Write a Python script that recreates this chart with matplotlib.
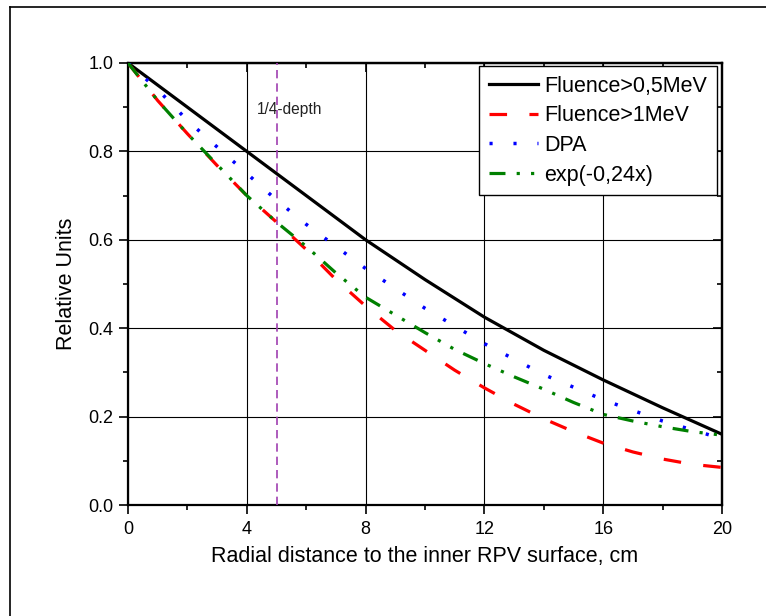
import matplotlib
matplotlib.use("Agg")
import matplotlib.pyplot as plt
from matplotlib.lines import Line2D
from matplotlib.ticker import MultipleLocator, FormatStrFormatter

plt.rcParams['font.family'] = ['Liberation Sans', 'DejaVu Sans']

# Data
x_black = [0, 2, 4, 6, 8, 10, 12, 14, 16, 18, 20]
y_black = [1.0, 0.90, 0.80, 0.70, 0.60, 0.51, 0.425, 0.35, 0.283, 0.22, 0.16]

x_red = [0, 1, 2, 3, 4, 5, 6, 7, 8, 9, 10, 11, 12, 13, 14, 15, 16, 17, 18, 19, 20]
y_red = [1.0, 0.915, 0.84, 0.768, 0.70, 0.64, 0.578, 0.51, 0.45, 0.395, 0.35, 0.305,
         0.265, 0.228, 0.195, 0.166, 0.14, 0.12, 0.104, 0.092, 0.085]

x_blue = [0, 1, 2, 3, 4, 5, 6, 8, 10, 12, 14, 16, 18, 20]
y_blue = [1.0, 0.94, 0.87, 0.81, 0.75, 0.69, 0.635, 0.535, 0.445, 0.365, 0.295, 0.238, 0.19, 0.15]

x_green = [0, 1, 2, 3, 4, 5, 6, 7, 8, 9, 10, 11, 12, 13, 14, 15, 16, 17, 18, 19, 20]
y_green = [1.0, 0.915, 0.84, 0.77, 0.70, 0.64, 0.585, 0.525, 0.47, 0.43, 0.39, 0.352,
           0.32, 0.29, 0.262, 0.232, 0.205, 0.19, 0.177, 0.166, 0.158]

labels = ["Fluence>0,5MeV", "Fluence>1MeV", "DPA", "exp(-0,24x)"]
depth_x = 5
depth_label = "1/4-depth"

fig = plt.figure(figsize=(7.66, 6.16), dpi=100)
ax = fig.add_axes([128/766, 1 - 505/616, (722-128)/766, (505-63)/616])

ax.plot(x_black, y_black, color='black', lw=2.3, label=labels[0], zorder=5)
ax.plot(x_red, y_red, color='red', lw=2.3, dashes=(5.5, 7.0), label=labels[1], zorder=5)
ax.plot(x_blue, y_blue, color='blue', lw=2.5, dashes=(0.9, 6.0), label=labels[2], zorder=5)
ax.plot(x_green, y_green, color='green', lw=2.3, dashes=(5.0, 3.5, 1.0, 3.5, 1.0, 3.5),
        label=labels[3], zorder=5)

ax.axvline(depth_x, color='#a040b0', lw=1.2, dashes=(5, 3), zorder=4)
ax.text(5.45, 0.895, depth_label, ha='center', va='center', fontsize=11.2, color='#222222')

ax.set_xlim(0, 20)
ax.set_ylim(0, 1.0)
ax.xaxis.set_major_locator(MultipleLocator(4))
ax.xaxis.set_minor_locator(MultipleLocator(2))
ax.yaxis.set_major_locator(MultipleLocator(0.2))
ax.yaxis.set_minor_locator(MultipleLocator(0.1))
ax.yaxis.set_major_formatter(FormatStrFormatter('%.1f'))
ax.grid(True, which='major', color='black', lw=0.8)
ax.set_axisbelow(True)

ax.tick_params(which='both', direction='out', labelsize=13, width=1.2, colors='black')
ax.tick_params(which='major', length=6.5, pad=4)
ax.tick_params(which='minor', length=3.5)
ax.tick_params(axis='x', pad=5)

for s in ax.spines.values():
    s.set_linewidth(1.6)

secx = ax.secondary_xaxis('top')
secx.xaxis.set_major_locator(MultipleLocator(4))
secx.xaxis.set_minor_locator(MultipleLocator(2))
secx.tick_params(which='both', direction='in', labeltop=False, width=1.2)
secx.tick_params(which='major', length=6.5)
secx.tick_params(which='minor', length=3.5)
secx.spines['top'].set_linewidth(1.6)
secy = ax.secondary_yaxis('right')
secy.yaxis.set_major_locator(MultipleLocator(0.2))
secy.yaxis.set_minor_locator(MultipleLocator(0.1))
secy.tick_params(which='both', direction='in', labelright=False, width=1.2)
secy.tick_params(which='major', length=6.5)
secy.tick_params(which='minor', length=3.5)
secy.spines['right'].set_linewidth(1.6)

ax.set_xlabel("Radial distance to the inner RPV surface, cm", fontsize=15.5, labelpad=6)
ax.set_ylabel("Relative Units", fontsize=15.5, labelpad=8)

leg = ax.legend(loc='upper right', bbox_to_anchor=((717-128)/594, (505-66)/442), fontsize=15.5,
                frameon=True, fancybox=False, edgecolor='black', framealpha=1,
                handlelength=2.3, handletextpad=0.28, labelspacing=0.4,
                borderpad=0.45, borderaxespad=0.0)
leg.get_frame().set_linewidth(1.0)

# outer frame (partially visible)
fig.add_artist(Line2D([9.5/766, 9.5/766], [0, 1 - 6.5/616], color='black', lw=1.2,
                      transform=fig.transFigure))
fig.add_artist(Line2D([9.5/766, 1], [1 - 6.5/616, 1 - 6.5/616], color='black', lw=1.2,
                      transform=fig.transFigure))

fig.savefig("out.png", dpi=100)
